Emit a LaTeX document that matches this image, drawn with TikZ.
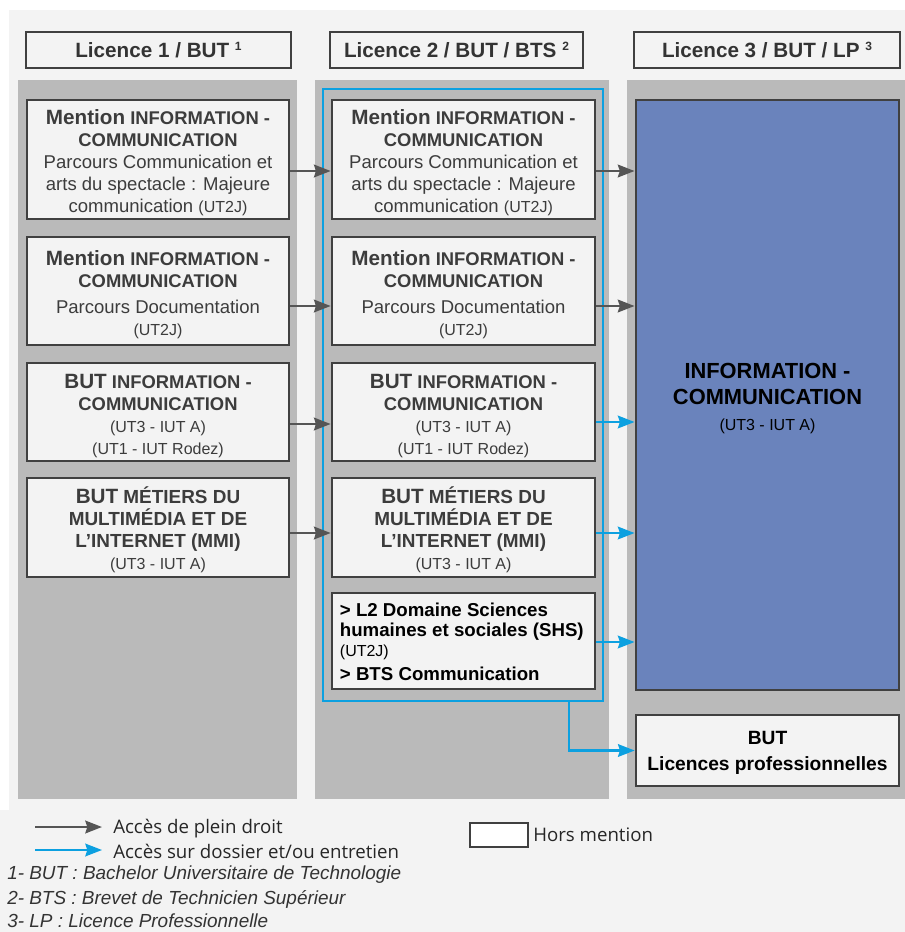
\documentclass[tikz,border=0pt]{standalone}
\usepackage{fontspec}
\setmainfont{Liberation Sans}
\newfontfamily\legfont{Open Sans}
\usetikzlibrary{arrows.meta}
\definecolor{bgl}{HTML}{F3F3F3}
\definecolor{colg}{HTML}{BABABA}
\definecolor{bord}{HTML}{404040}
\definecolor{txtg}{HTML}{3C3C3C}
\definecolor{arrg}{HTML}{555555}
\definecolor{cyanb}{HTML}{0CA0E0}
\definecolor{infob}{HTML}{6A83BC}
\newcommand\leadw[1]{{\fontsize{15.5}{16.5}\selectfont\bfseries #1}}
\newcommand\capsb[1]{{\fontsize{13.8}{16.5}\selectfont\bfseries #1}}
\newcommand\capsc[1]{{\fontsize{14.2}{16.5}\selectfont\bfseries #1}}
\newcommand\smalltx[1]{{\fontsize{12}{16}\selectfont\mdseries #1}}
\newcommand\supn[1]{\raisebox{0.65ex}{\fontsize{9}{9}\selectfont #1}}
\newcommand\sd[1]{\rule{0pt}{#1pt}}
\begin{document}
\begin{tikzpicture}[x=0.75pt,y=-0.75pt,
  sz/.style 2 args={minimum width=#1*0.75pt, minimum height=#2*0.75pt},
  pbox/.style={draw=bord, line width=2pt, fill=bgl, inner sep=0pt, align=center, text=txtg, font=\fontsize{13.9}{16.5}\selectfont},
  hbox/.style={draw=bord, line width=1.1pt, fill=bgl, inner sep=0pt, align=center, text=black!80, font=\fontsize{15.5}{17}\selectfont\bfseries},
  garrow/.style={draw=arrg, line width=1.9pt, -{Stealth[length=12.5pt,width=9.5pt,inset=1.5pt]}},
  barrow/.style={draw=cyanb, line width=1.6pt, -{Stealth[length=12.5pt,width=9.5pt,inset=1.5pt]}},
  legtxt/.style={anchor=west, inner sep=0pt, text=black!85, font=\legfont\fontsize{14}{16}\selectfont},
  fntxt/.style={anchor=west, inner sep=0pt, text=black!80, font=\itshape\fontsize{14.2}{16}\selectfont}
]
\useasboundingbox (0,0) rectangle (905,932);
% backgrounds
\fill[white] (0,0) rectangle (905,932);
\fill[bgl] (9,10) rectangle (905,932);
\fill[bgl] (0,810) rectangle (905,932);
% columns
\fill[colg] (18,80) rectangle (297,799);
\fill[colg] (315,80) rectangle (609,799);
\fill[colg] (627,80) rectangle (905,799);
% headers
\node[hbox, sz={265}{36}] (h1) at (158.5,50) {Licence 1 / BUT \supn{1}};
\node[hbox, sz={253}{36}] (h2) at (456.5,50) {Licence 2 / BUT / BTS \supn{2}};
\node[hbox, sz={266}{36}] (h3) at (767,50) {Licence 3 / BUT / LP \supn{3}};
% blue frame around column 2
\node[draw=cyanb, line width=1.7pt, inner sep=0pt, sz={280}{612}] (frame) at (463,395) {};
% column 1 boxes
\node[pbox, sz={262}{119}] (a1) at (158,159.5) {\sd{15.8}\leadw{Mention} \capsb{INFORMATION -}\\ \capsb{COMMUNICATION}\\ Parcours Communication et\\ arts du spectacle : Majeure\\ communication \smalltx{(UT2J)}};
\node[pbox, sz={262}{108}] (a2) at (158,291) {\sd{16.5}\leadw{Mention} \capsb{INFORMATION -}\\ \capsb{COMMUNICATION}\\[3pt] Parcours Documentation\\ \smalltx{(UT2J)}};
\node[pbox, sz={262}{98}] (a3) at (158,412) {\sd{16.4}\leadw{BUT} \capsb{INFORMATION -}\\ \capsb{COMMUNICATION}\\ \smalltx{(UT3 - IUT A)}\\ \smalltx{(UT1 - IUT Rodez)}};
\node[pbox, sz={262}{99}] (a4) at (158,527.5) {\sd{15.8}\leadw{BUT} \capsc{MÉTIERS DU}\\ \capsc{MULTIMÉDIA ET DE}\\ \capsc{L’INTERNET (MMI)}\\ \smalltx{(UT3 - IUT A)}};
% column 2 boxes
\node[pbox, sz={263}{119}] (b1) at (463.5,159.5) {\sd{15.8}\leadw{Mention} \capsb{INFORMATION -}\\ \capsb{COMMUNICATION}\\ Parcours Communication et\\ arts du spectacle : Majeure\\ communication \smalltx{(UT2J)}};
\node[pbox, sz={263}{108}] (b2) at (463.5,291) {\sd{16.5}\leadw{Mention} \capsb{INFORMATION -}\\ \capsb{COMMUNICATION}\\[3pt] Parcours Documentation\\ \smalltx{(UT2J)}};
\node[pbox, sz={263}{98}] (b3) at (463.5,412) {\sd{16.4}\leadw{BUT} \capsb{INFORMATION -}\\ \capsb{COMMUNICATION}\\ \smalltx{(UT3 - IUT A)}\\ \smalltx{(UT1 - IUT Rodez)}};
\node[pbox, sz={263}{99}] (b4) at (463.5,527.5) {\sd{15.8}\leadw{BUT} \capsc{MÉTIERS DU}\\ \capsc{MULTIMÉDIA ET DE}\\ \capsc{L’INTERNET (MMI)}\\ \smalltx{(UT3 - IUT A)}};
\node[pbox, sz={263}{96}] (b5) at (463.5,641) {};
\node[anchor=west, inner sep=0pt, align=left, text=black, font=\fontsize{14}{15}\selectfont\bfseries] (b5t) at ([xshift=9*0.75pt,yshift=-0.5pt]b5.west) {> L2 Domaine Sciences\\ humaines et sociales (SHS)\\ \smalltx{(UT2J)}\\[3pt] > BTS Communication};
% column 3
\node[draw=bord, line width=2.2pt, fill=infob, inner sep=0pt, align=center, text=black, font=\fontsize{16.4}{19.5}\selectfont\bfseries, sz={263}{590}] (c1) at (767.5,395) {\sd{16.3}INFORMATION -\\ COMMUNICATION\\ \smalltx{(UT3 - IUT A)}};
\node[draw=bord, line width=2pt, fill=bgl, inner sep=0pt, align=center, text=black, font=\fontsize{14.4}{19.5}\selectfont\bfseries, sz={263}{71}] (c2) at (767.5,750.5) {\sd{13.3}BUT\\ Licences professionnelles};
% arrow levels
\coordinate (y1) at (0,171);
\coordinate (y2) at (0,306);
\coordinate (y3) at (0,424);
\coordinate (y3b) at (0,422);
\coordinate (y4) at (0,533);
\coordinate (y5) at (0,642);
\coordinate (kx) at (569,0);
% column 1 -> column 2
\draw[garrow] (a1.east |- y1) -- (b1.west |- y1);
\draw[garrow] (a2.east |- y2) -- (b2.west |- y2);
\draw[garrow] (a3.east |- y3) -- (b3.west |- y3);
\draw[garrow] (a4.east |- y4) -- (b4.west |- y4);
% column 2 -> column 3
\draw[garrow] (b1.east |- y1) -- (c1.west |- y1);
\draw[garrow] (b2.east |- y2) -- (c1.west |- y2);
\draw[barrow] (b3.east |- y3b) -- (c1.west |- y3b);
\draw[barrow] (b4.east |- y4) -- (c1.west |- y4);
\draw[barrow] (b5.east |- y5) -- (c1.west |- y5);
\draw[barrow] (frame.south -| kx) |- (c2.west);
% legend
\coordinate (lg1s) at (35,827);
\coordinate (lg1e) at (102,827);
\coordinate (lg2s) at (35,850);
\coordinate (lg2e) at (102,850);
\draw[garrow] (lg1s) -- (lg1e);
\draw[barrow] (lg2s) -- (lg2e);
\node[legtxt] (lt1) at (113,829) {Accès de plein droit};
\node[legtxt] (lt2) at (113,851) {Accès sur dossier et/ou entretien};
\node[draw=bord, fill=white, line width=0.8pt, inner sep=0pt, sz={58}{24}] (hm) at (499,835) {};
\node[legtxt] (hmt) at (533,835) {Hors mention};
\node[fntxt] (fn1) at (7,875) {1- BUT : Bachelor Universitaire de Technologie};
\node[fntxt] (fn2) at (7,899) {2- BTS : Brevet de Technicien Supérieur};
\node[fntxt] (fn3) at (7,921) {3- LP : Licence Professionnelle};
\end{tikzpicture}
\end{document}
